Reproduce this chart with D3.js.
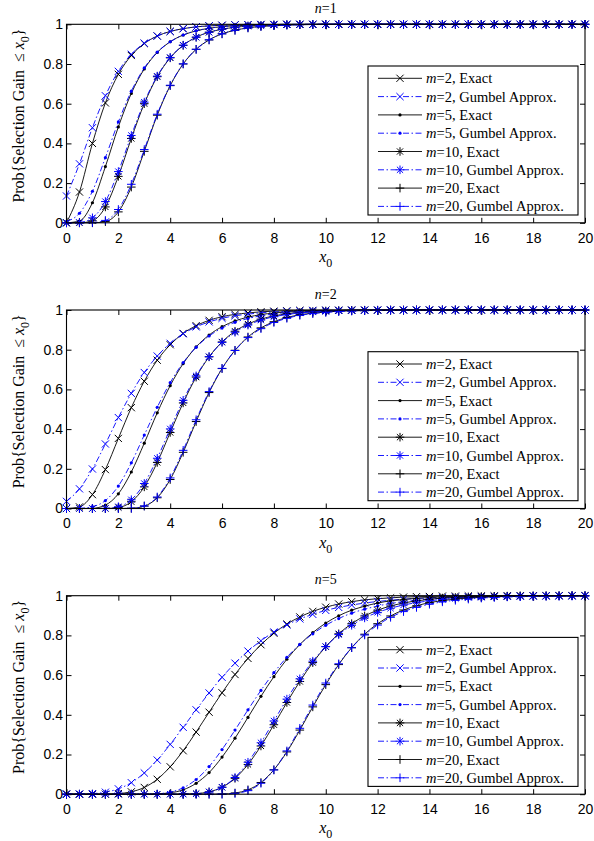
<!DOCTYPE html>
<html><head><meta charset="utf-8">
<script src="https://cdn.jsdelivr.net/npm/d3@7"></script>
<style>body{margin:0;background:#fff} svg{display:block}</style>
</head><body><svg id="c" width="594" height="841"></svg>
<script>
const xValues = [0,0.5,1,1.5,2,2.5,3,3.5,4,4.5,5,5.5,6,6.5,7,7.5,8,8.5,9,9.5,10,10.5,11,11.5,12,12.5,13,13.5,14,14.5,15,15.5,16,16.5,17,17.5,18,18.5,19,19.5,20];
const xTicks = [0,2,4,6,8,10,12,14,16,18,20];
const yTicks = [0,0.2,0.4,0.6,0.8,1];
const yTickLabels = ["0","0.2","0.4","0.6","0.8","1"];
const panelN = ["1","2","5"];
const mValues = [2,5,10,20];
const markerKinds = ["x","dot","star","plus"];

// n = 1
const n1E2 = [0,0.155,0.400,0.604,0.748,0.843,0.903,0.941,0.964,0.978, 0.987,0.992,0.995,0.997,0.998,0.999,0.999,1,1,1, 1,1,1,1,1,1,1,1,1,1, 1,1,1,1,1,1,1,1,1,1, 1];
const n1G2 = [0.135,0.297,0.479,0.640,0.763,0.849,0.905,0.941,0.964,0.978, 0.987,0.992,0.995,0.997,0.998,0.999,0.999,1,1,1, 1,1,1,1,1,1,1,1,1,1, 1,1,1,1,1,1,1,1,1,1, 1];
const n1E5 = [0,0.009,0.101,0.283,0.483,0.652,0.775,0.858,0.912,0.946, 0.967,0.980,0.988,0.993,0.995,0.997,0.998,0.999,0.999,1, 1,1,1,1,1,1,1,1,1,1, 1,1,1,1,1,1,1,1,1,1, 1];
const n1G5 = [0.007,0.048,0.159,0.328,0.508,0.663,0.780,0.860,0.912,0.946, 0.967,0.980,0.988,0.993,0.995,0.997,0.998,0.999,0.999,1, 1,1,1,1,1,1,1,1,1,1, 1,1,1,1,1,1,1,1,1,1, 1];
const n1E10 = [0,0,0.010,0.080,0.234,0.425,0.600,0.736,0.831,0.894, 0.935,0.960,0.975,0.985,0.991,0.994,0.997,0.998,0.999,0.999, 1,1,1,1,1,1,1,1,1,1, 1,1,1,1,1,1,1,1,1,1, 1];
const n1G10 = [0,0.002,0.025,0.107,0.258,0.440,0.608,0.739,0.833,0.895, 0.935,0.960,0.976,0.985,0.991,0.994,0.997,0.998,0.999,0.999, 1,1,1,1,1,1,1,1,1,1, 1,1,1,1,1,1,1,1,1,1, 1];
const n1E20 = [0,0,0,0.006,0.055,0.180,0.360,0.542,0.691,0.800, 0.874,0.921,0.952,0.970,0.982,0.989,0.993,0.996,0.998,0.999, 0.999,0.999,1,1,1,1,1,1,1,1, 1,1,1,1,1,1,1,1,1,1, 1];
const n1G20 = [0,0,0.001,0.012,0.067,0.194,0.369,0.547,0.693,0.801, 0.874,0.922,0.952,0.970,0.982,0.989,0.993,0.996,0.998,0.999, 0.999,0.999,1,1,1,1,1,1,1,1, 1,1,1,1,1,1,1,1,1,1, 1];

// n = 2
const n2E2 = [0,0.008,0.070,0.196,0.353,0.508,0.641,0.747,0.825,0.882, 0.921,0.948,0.966,0.978,0.985,0.991,0.994,0.996,0.998,0.998, 0.999,0.999,1,1,1,1,1,1,1,1, 1,1,1,1,1,1,1,1,1,1, 1];
const n2G2 = [0.036,0.099,0.199,0.325,0.458,0.580,0.685,0.768,0.832,0.880, 0.915,0.940,0.958,0.971,0.979,0.986,0.990,0.993,0.995,0.997, 0.998,0.998,0.999,0.999,0.999,1,1,1,1,1, 1,1,1,1,1,1,1,1,1,1, 1];
const n2E5 = [0,0,0.001,0.017,0.074,0.184,0.329,0.482,0.619,0.730, 0.814,0.874,0.916,0.945,0.964,0.977,0.985,0.990,0.994,0.996, 0.998,0.998,0.999,0.999,1,1,1,1,1,1, 1,1,1,1,1,1,1,1,1,1, 1];
const n2G5 = [0,0.001,0.009,0.040,0.113,0.230,0.370,0.510,0.634,0.735, 0.812,0.869,0.909,0.938,0.957,0.971,0.980,0.987,0.991,0.994, 0.996,0.997,0.998,0.999,0.999,0.999,1,1,1,1, 1,1,1,1,1,1,1,1,1,1, 1];
const n2E10 = [0,0,0,0,0.005,0.034,0.109,0.232,0.383,0.532, 0.662,0.764,0.839,0.893,0.929,0.954,0.970,0.981,0.988,0.992, 0.995,0.997,0.998,0.999,0.999,1,1,1,1,1, 1,1,1,1,1,1,1,1,1,1, 1];
const n2G10 = [0,0,0,0.001,0.009,0.044,0.126,0.253,0.401,0.545, 0.668,0.765,0.837,0.888,0.924,0.949,0.966,0.977,0.985,0.990, 0.993,0.996,0.997,0.998,0.999,0.999,0.999,1,1,1, 1,1,1,1,1,1,1,1,1,1, 1];
const n2E20 = [0,0,0,0,0,0.001,0.012,0.054,0.146,0.283, 0.438,0.584,0.705,0.797,0.864,0.910,0.941,0.962,0.976,0.984, 0.990,0.994,0.996,0.997,0.998,0.999,0.999,1,1,1, 1,1,1,1,1,1,1,1,1,1, 1];
const n2G20 = [0,0,0,0,0,0.001,0.013,0.058,0.154,0.293, 0.447,0.589,0.706,0.796,0.861,0.906,0.937,0.958,0.973,0.982, 0.988,0.992,0.995,0.997,0.998,0.999,0.999,0.999,1,1, 1,1,1,1,1,1,1,1,1,1, 1];

// n = 5
const n5E2 = [0,0,0,0,0.003,0.012,0.034,0.075,0.138,0.219, 0.313,0.413,0.511,0.603,0.684,0.753,0.811,0.857,0.893,0.921, 0.942,0.958,0.970,0.979,0.985,0.989,0.993,0.995,0.996,0.998, 0.998,0.999,0.999,0.999,1,1,1,1,1,1, 1];
const n5G2 = [0,0.001,0.003,0.010,0.027,0.058,0.107,0.172,0.251,0.337, 0.425,0.510,0.589,0.660,0.721,0.773,0.817,0.853,0.883,0.906, 0.926,0.941,0.953,0.963,0.971,0.977,0.982,0.986,0.989,0.991, 0.993,0.995,0.996,0.997,0.997,0.998,0.998,0.999,0.999,0.999, 0.999];
const n5E5 = [0,0,0,0,0,0,0,0.002,0.007,0.022, 0.055,0.109,0.187,0.282,0.387,0.493,0.592,0.680,0.754,0.814, 0.862,0.899,0.927,0.947,0.963,0.974,0.981,0.987,0.991,0.994, 0.996,0.997,0.998,0.999,0.999,0.999,1,1,1,1, 1];
const n5G5 = [0,0,0,0,0,0,0,0.002,0.011,0.032, 0.074,0.139,0.225,0.323,0.425,0.523,0.612,0.690,0.755,0.808, 0.851,0.885,0.912,0.932,0.948,0.961,0.970,0.977,0.983,0.987, 0.990,0.993,0.994,0.996,0.997,0.998,0.998,0.999,0.999,0.999, 0.999];
const n5E10 = [0,0,0,0,0,0,0,0,0,0.001, 0.003,0.012,0.035,0.080,0.150,0.243,0.350,0.462,0.568,0.663, 0.743,0.808,0.859,0.898,0.927,0.948,0.963,0.974,0.982,0.988, 0.991,0.994,0.996,0.997,0.998,0.999,0.999,0.999,1,1, 1];
const n5G10 = [0,0,0,0,0,0,0,0,0,0, 0.002,0.011,0.035,0.084,0.161,0.259,0.369,0.479,0.581,0.670, 0.744,0.804,0.851,0.888,0.916,0.937,0.953,0.965,0.974,0.981, 0.986,0.990,0.992,0.994,0.996,0.997,0.998,0.998,0.999,0.999, 0.999];
const n5E20 = [0,0,0,0,0,0,0,0,0,0, 0,0,0.001,0.006,0.022,0.059,0.123,0.213,0.323,0.440, 0.552,0.653,0.738,0.806,0.859,0.898,0.928,0.949,0.965,0.975, 0.983,0.988,0.992,0.995,0.996,0.998,0.998,0.999,0.999,1, 1];
const n5G20 = [0,0,0,0,0,0,0,0,0,0, 0,0,0,0.004,0.018,0.055,0.122,0.218,0.332,0.449, 0.560,0.657,0.738,0.802,0.852,0.891,0.920,0.941,0.957,0.969, 0.977,0.983,0.988,0.991,0.994,0.995,0.997,0.998,0.998,0.999, 0.999];

const panelExact = [[n1E2,n1E5,n1E10,n1E20],[n2E2,n2E5,n2E10,n2E20],[n5E2,n5E5,n5E10,n5E20]];
const panelGumbel = [[n1G2,n1G5,n1G10,n1G20],[n2G2,n2G5,n2G10,n2G20],[n5G2,n5G5,n5G10,n5G20]];

// ---------- layout ----------
const L = 66.5, R = 585, H = 198.5;
const panelTops = [24.3, 310, 595.7];
const BLUE = "#0000ff";
const SERIF = "'Liberation Serif','Times New Roman',Times,serif";
const SANS = "'Liberation Sans',Arial,Helvetica,sans-serif";
const DASH = "6,2.5,1.5,2.5";

const svg = d3.select("#c");
svg.append("rect").attr("width",594).attr("height",841).attr("fill","#fff");

function markerPath(kind, s) {
  if (kind === "x") return `M${-s},${-s}L${s},${s}M${-s},${s}L${s},${-s}`;
  if (kind === "plus") return `M${-s},0H${s}M0,${-s}V${s}`;
  if (kind === "star") { const d = s*0.72; return `M${-s},0H${s}M0,${-s}V${s}M${-d},${-d}L${d},${d}M${-d},${d}L${d},${-d}`; }
  return null;
}
function drawMarker(g, kind, cx, cy, color) {
  if (kind === "dot") {
    g.append("circle").attr("cx",cx).attr("cy",cy).attr("r",1.6).attr("fill",color);
  } else {
    const s = kind === "x" ? 3.6 : 4.3;
    g.append("path").attr("d",markerPath(kind,s)).attr("transform",`translate(${cx},${cy})`)
      .attr("stroke",color).attr("stroke-width",1).attr("fill","none");
  }
}

const x = d3.scaleLinear().domain([0,20]).range([L,R]);

panelTops.forEach((top, pi) => {
  const y = d3.scaleLinear().domain([0,1]).range([top+H, top]);
  const g = svg.append("g");

  // axes (inward ticks on all sides)
  const ax = g.append("g").attr("transform",`translate(0,${top+H})`)
    .call(d3.axisBottom(x).tickValues(xTicks).tickSize(-5).tickPadding(10).tickFormat(d3.format("d")));
  const axT = g.append("g").attr("transform",`translate(0,${top})`)
    .call(d3.axisTop(x).tickValues(xTicks).tickSize(-5).tickFormat(""));
  const ay = g.append("g").attr("transform",`translate(${L},0)`)
    .call(d3.axisLeft(y).tickValues(yTicks).tickSize(-5).tickPadding(3.5).tickFormat((d,i)=>yTickLabels[i]));
  const ayR = g.append("g").attr("transform",`translate(${R},0)`)
    .call(d3.axisRight(y).tickValues(yTicks).tickSize(-5).tickFormat(""));
  [ax,axT,ay,ayR].forEach(a => {
    a.select(".domain").remove();
    a.selectAll("line").attr("stroke","#000").attr("stroke-width",1);
    a.selectAll("text").attr("font-family",SANS).attr("font-size",14).attr("fill","#000");
  });

  // curves
  const line = d3.line().x((d,i)=>x(xValues[i])).y(d=>y(d)).curve(d3.curveMonotoneX);
  const cg = g.append("g");
  mValues.forEach((m, si) => {
    const kind = markerKinds[si];
    const ex = panelExact[pi][si], gu = panelGumbel[pi][si];
    cg.append("path").datum(ex).attr("d",line).attr("fill","none").attr("stroke","#000").attr("stroke-width",0.9);
    ex.forEach((v,i)=>drawMarker(cg, kind, x(xValues[i]), y(v), "#000"));
    cg.append("path").datum(gu).attr("d",line).attr("fill","none").attr("stroke",BLUE).attr("stroke-width",0.9).attr("stroke-dasharray",DASH);
    gu.forEach((v,i)=>drawMarker(cg, kind, x(xValues[i]), y(v), BLUE));
  });

  // box
  g.append("rect").attr("x",L).attr("y",top).attr("width",R-L).attr("height",H)
    .attr("fill","none").attr("stroke","#000").attr("stroke-width",1.1);

  // title
  const t = g.append("text").attr("x",(L+R)/2).attr("y",top-11.5).attr("text-anchor","middle")
    .attr("font-family",SERIF).attr("font-size",14).attr("fill","#000");
  t.append("tspan").attr("font-style","italic").text("n");
  t.append("tspan").text("=" + panelN[pi]);

  // x label
  const xl = g.append("text").attr("x",(L+R)/2).attr("y",top+H+39).attr("text-anchor","middle")
    .attr("font-family",SERIF).attr("font-size",16).attr("fill","#000");
  xl.append("tspan").attr("font-style","italic").text("x");
  xl.append("tspan").attr("font-size",12).attr("dy",5).text("0");

  // y label
  const yl = g.append("text").attr("transform",`translate(24,${top+H/2-8}) rotate(-90)`).attr("text-anchor","middle")
    .attr("font-family",SERIF).attr("font-size",16).attr("fill","#000");
  yl.append("tspan").text("Prob{Selection Gain\u00a0\u00a0\u2264 ");
  yl.append("tspan").attr("font-style","italic").text("x");
  yl.append("tspan").attr("font-size",12).attr("dy",5).text("0");
  yl.append("tspan").attr("dy",-5).text("}");

  // legend
  const lx = 368, ly = top + 41.7, lw = 210, lh = 149;
  const lg = g.append("g");
  lg.append("rect").attr("x",lx).attr("y",ly).attr("width",lw).attr("height",lh)
    .attr("fill","#fff").attr("stroke","#000").attr("stroke-width",1.1);
  let row = 0;
  mValues.forEach((m, si) => {
    const kind = markerKinds[si];
    [["Exact","#000",null],["Gumbel Approx.",BLUE,DASH]].forEach(([lab,col,dash]) => {
      const ry = ly + 12.3 + row*18.3;
      const p = lg.append("line").attr("x1",lx+10).attr("x2",lx+54).attr("y1",ry).attr("y2",ry)
        .attr("stroke",col).attr("stroke-width",0.9);
      if (dash) p.attr("stroke-dasharray",DASH);
      drawMarker(lg, kind, lx+32, ry, col);
      const tx = lg.append("text").attr("x",lx+58).attr("y",ry+5)
        .attr("font-family",SERIF).attr("font-size",14.5).attr("fill","#000");
      tx.append("tspan").attr("font-style","italic").text("m");
      tx.append("tspan").text("=" + m + ", " + lab);
      row++;
    });
  });
});
</script></body></html>
